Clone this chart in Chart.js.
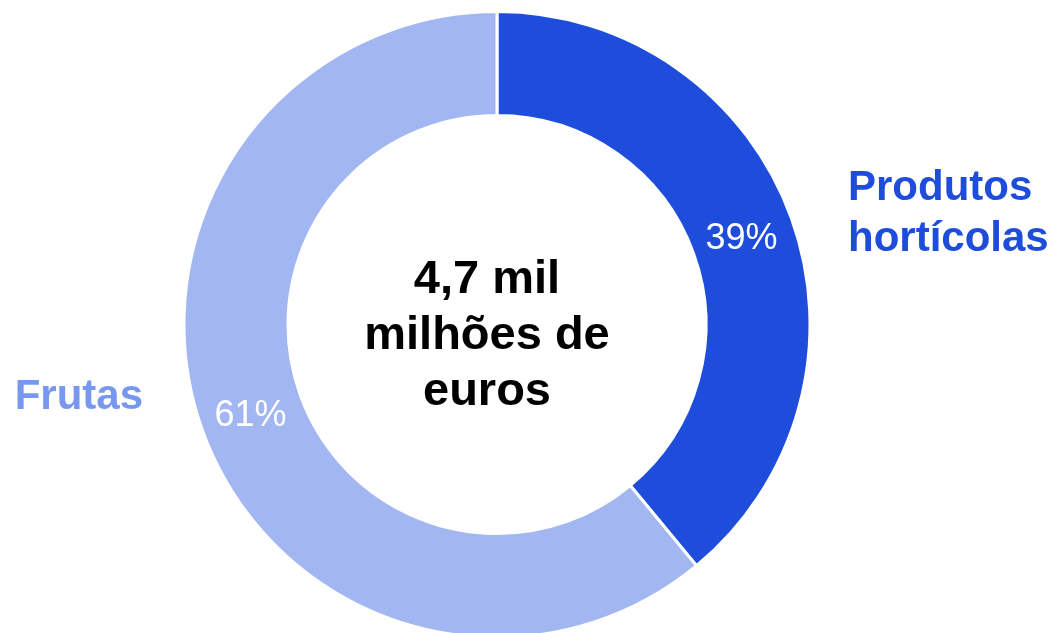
<!DOCTYPE html>
<html lang="pt">
<head>
<meta charset="utf-8">
<title>Produtos hortícolas e frutas</title>
<script src="https://cdn.jsdelivr.net/npm/chart.js@4/dist/chart.umd.min.js"></script>
<style>
  html, body { margin: 0; padding: 0; background: #ffffff; overflow: hidden; }
  .wrap { position: relative; width: 1054px; height: 633px; }
</style>
</head>
<body>
<div class="wrap"><canvas id="mixChart"></canvas></div>
<script>
// Data
const categories = ['Produtos hortícolas', 'Frutas'];
const shares = [39, 61];
const centerLines = ['4,7 mil', 'milhões de', 'euros'];

// Colours
const sliceColors = ['#1d4dda', '#a2b7f2'];
const labelColors = ['#1d4dda', '#7898ef'];
const FONT = "'Liberation Sans', Arial, sans-serif";

// Draws the % in each slice, the category names beside the ring and the total in the hole
const annotations = {
  id: 'annotations',
  afterDatasetsDraw(chart) {
    const { ctx } = chart;
    const meta = chart.getDatasetMeta(0);
    const first = meta.data[0];
    const cx = first.x, cy = first.y;

    ctx.save();
    ctx.textBaseline = 'alphabetic';

    // percentages on the slices
    ctx.fillStyle = '#ffffff';
    ctx.font = `400 36px ${FONT}`;
    ctx.textAlign = 'center';
    meta.data.forEach((arc, i) => {
      const p = arc.getCenterPoint();
      ctx.fillText(shares[i] + '%', p.x - 1, p.y + 13);
    });

    // category labels
    ctx.font = `700 42px ${FONT}`;
    ctx.fillStyle = labelColors[0];
    ctx.textAlign = 'left';
    const words = categories[0].split(' ');
    ctx.fillText(words[0], cx + 351, cy - 125);
    ctx.fillText(words[1], cx + 351, cy - 74);

    ctx.fillStyle = labelColors[1];
    ctx.textAlign = 'right';
    ctx.fillText(categories[1], cx - 354, cy + 84);

    // total in the centre (sits a little left of the ring centre)
    ctx.fillStyle = '#000000';
    ctx.font = `700 47px ${FONT}`;
    ctx.textAlign = 'center';
    centerLines.forEach((line, i) => {
      ctx.fillText(line, cx - 10, cy - 32 + i * 56);
    });

    ctx.restore();
  }
};

const ctx = document.getElementById('mixChart').getContext('2d');
new Chart(ctx, {
  type: 'doughnut',
  data: {
    labels: categories,
    datasets: [{
      data: shares,
      backgroundColor: sliceColors,
      borderColor: '#ffffff',
      borderWidth: 3,
      clip: false
    }]
  },
  options: {
    responsive: true,
    maintainAspectRatio: false,
    animation: false,
    radius: 313,
    cutout: 205,
    layout: { padding: { left: 0, right: 60, top: 16, bottom: 0 } },
    plugins: {
      legend: { display: false },
      tooltip: { enabled: false }
    }
  },
  plugins: [annotations]
});
</script>
</body>
</html>
